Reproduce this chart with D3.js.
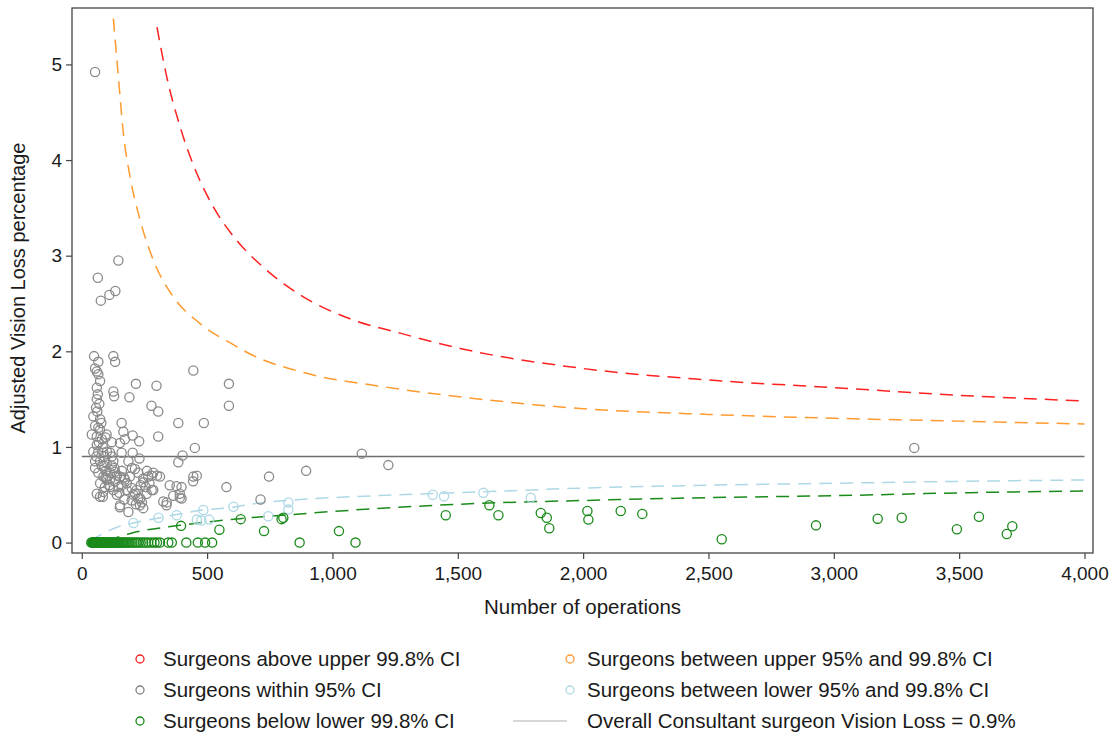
<!DOCTYPE html>
<html>
<head>
<meta charset="utf-8">
<script src="https://cdn.jsdelivr.net/npm/d3@7"></script>
<style>
    body { margin: 0; background: #fff; }
    text { font-family: "Liberation Sans", Arial, sans-serif; fill: #1a1a1a; }
</style>
</head>
<body>
<div id="chart"></div>
<script>
// surgeons: [number of operations, adjusted vision loss %]
var withinPts = [
    [53,4.92],[64,2.77],[146,2.95],[76,2.53],[110,2.59],[134,2.63],
    [49,1.95],[66,1.89],[126,1.95],[133,1.89],[53,1.82],[60,1.79],[66,1.76],[73,1.69],
    [60,1.62],[64,1.55],[60,1.50],[70,1.45],[57,1.41],[62,1.37],[46,1.32],[73,1.29],
    [53,1.22],[66,1.20],[73,1.18],[78,1.25],[40,1.13],[60,1.11],[99,1.13],[80,1.08],
    [95,1.10],[68,1.05],[60,1.02],[84,1.00],[46,0.95],[66,0.95],[86,0.94],[100,0.95],
    [58,0.90],[90,0.90],[120,0.90],[53,0.85],[73,0.85],[113,0.94],[53,0.78],[80,0.80],
    [90,0.80],[99,0.83],[126,0.85],[66,0.73],[86,0.69],[95,0.75],[95,0.68],[105,0.70],
    [73,0.62],[92,0.58],[86,0.53],[73,0.48],[84,0.48],[60,0.51],[113,0.73],[113,0.66],
    [110,0.60],[113,0.58],[120,0.80],[130,0.78],[133,0.64],[126,0.55],[140,0.70],[140,0.50],
    [146,0.58],[150,0.52],[152,0.69],[133,0.74],[99,0.66],[160,0.75],[168,0.68],[170,0.45],
    [126,1.58],[129,1.53],[190,1.52],[216,1.66],[445,1.80],[120,1.05],
    [159,1.25],[166,1.16],[152,1.04],[172,1.08],[203,1.12],[229,1.06],[159,0.94],[203,0.94],
    [186,0.85],[212,0.77],[225,0.73],[192,0.69],[172,0.66],[159,0.60],[179,0.55],[180,0.62],
    [199,0.57],[219,0.55],[206,0.50],[213,0.51],[225,0.46],[199,0.44],[216,0.40],[232,0.39],
    [245,0.36],[186,0.32],[152,0.37],[153,0.39],[200,0.78],[230,0.88],
    [278,1.43],[305,1.37],[298,1.64],[305,1.11],
    [245,0.67],[246,0.63],[265,0.69],[285,0.73],[279,0.70],[312,0.69],[285,0.55],[279,0.55],
    [259,0.51],[233,0.46],[240,0.42],[255,0.58],[270,0.62],[260,0.75],[300,0.70],[235,0.60],
    [325,0.43],[338,0.39],[339,0.42],[385,1.25],[487,1.25],[587,1.66],[587,1.43],
    [402,0.91],[385,0.84],[451,0.99],[445,0.69],[459,0.70],
    [351,0.60],[378,0.59],[398,0.58],[391,0.51],[398,0.46],[365,0.49],[391,0.47],[444,0.64],
    [577,0.58],[713,0.45],[747,0.69],[895,0.75],[1117,0.93],[1223,0.81],[3321,0.99]
];
var lowerBandPts = [
    [206,0.205],[306,0.26],[379,0.285],[485,0.34],[459,0.24],[477,0.23],[508,0.24],
    [605,0.375],[744,0.275],[824,0.42],[824,0.345],[1400,0.50],[1445,0.485],[1602,0.52],[1791,0.47]
];
var belowPts = [
    [396,0.175],[549,0.135],[634,0.245],[727,0.12],[797,0.245],[804,0.26],[1026,0.12],
    [1452,0.285],[1626,0.39],[1662,0.285],[1831,0.31],[1855,0.26],[1865,0.15],[2017,0.33],
    [2021,0.24],[2150,0.33],[2236,0.30],[2553,0.035],[2929,0.18],[3175,0.25],[3271,0.26],
    [3491,0.14],[3579,0.27],[3690,0.09],[3712,0.17]
];
// surgeons with no vision loss (value 0), by number of operations
var belowZeroOps = [38,42,45,48,50,52,55,57,60,62,65,67,70,72,75,78,80,83,85,88,90,93,95,98,
    100,103,106,110,113,116,120,124,128,132,136,140,145,150,155,160,165,170,176,182,188,
    195,202,210,218,226,235,245,255,265,278,290,300,312,345,359,417,463,492,520,869,1092];

// control limits
var upper998 = [[300,5.39],[339,4.87],[392,4.35],[459,3.86],[525,3.51],[618,3.16],[724,2.88],
    [871,2.59],[1070,2.34],[1270,2.19],[1509,2.03],[2000,1.82],[2500,1.70],[3000,1.62],[3500,1.54],[4000,1.48]];
var upper95 = [[126,5.48],[146,4.87],[166,4.28],[193,3.82],[233,3.37],[286,2.95],[365,2.57],
    [472,2.29],[618,2.05],[658,1.99],[897,1.77],[1203,1.63],[1589,1.50],[2000,1.40],[2500,1.34],
    [3000,1.30],[3500,1.27],[4000,1.24]];
var lower95 = [[33,0.02],[90,0.10],[140,0.16],[206,0.205],[312,0.26],[485,0.34],[605,0.37],
    [698,0.41],[871,0.45],[1083,0.48],[1589,0.53],[2000,0.57],[2500,0.60],[3000,0.62],[3500,0.64],[4000,0.655]];
var lower998 = [[100,0.02],[200,0.10],[392,0.18],[631,0.25],[871,0.30],[1083,0.34],[1589,0.41],
    [2000,0.44],[2500,0.47],[3000,0.49],[3500,0.52],[4000,0.54]];
var overallRate = 0.9;
var overallRange = [0, 4000];

var xTicks = [0, 500, 1000, 1500, 2000, 2500, 3000, 3500, 4000];
var yTicks = [0, 1, 2, 3, 4, 5];

var legendItems = [
    {label: "Surgeons above upper 99.8% CI", color: "#ff2020", type: "dot"},
    {label: "Surgeons within 95% CI", color: "#808080", type: "dot"},
    {label: "Surgeons below lower 99.8% CI", color: "#1a8a1a", type: "dot"},
    {label: "Surgeons between upper 95% and 99.8% CI", color: "#ff9a30", type: "dot"},
    {label: "Surgeons between lower 95% and 99.8% CI", color: "#add8e6", type: "dot"},
    {label: "Overall Consultant surgeon Vision Loss = 0.9%", color: "#b0b0b0", type: "line"}
];

var W = 1114, H = 738;
var plot = {left: 72, right: 1093, top: 8, bottom: 553};

var svg = d3.select("#chart").append("svg")
    .attr("width", W)
    .attr("height", H);

var x = d3.scaleLinear().domain([-39, 4034]).range([plot.left, plot.right]);
var y = d3.scaleLinear().domain([-0.109, 5.59]).range([plot.bottom, plot.top]);

svg.append("clipPath").attr("id", "clip")
    .append("rect")
    .attr("x", plot.left).attr("y", plot.top)
    .attr("width", plot.right - plot.left).attr("height", plot.bottom - plot.top);

// axes
var xAxis = svg.append("g")
    .attr("transform", "translate(0," + plot.bottom + ")")
    .call(d3.axisBottom(x).tickValues(xTicks).tickFormat(d3.format(",")).tickSize(6).tickPadding(8));
var yAxis = svg.append("g")
    .attr("transform", "translate(" + plot.left + ",0)")
    .call(d3.axisLeft(y).tickValues(yTicks).tickFormat(d3.format("d")).tickSize(6).tickPadding(4));
[xAxis, yAxis].forEach(function(g) {
    g.select(".domain").remove();
    g.selectAll(".tick line").attr("stroke", "#444").attr("stroke-width", 1.2);
    g.selectAll(".tick text").style("font-size", "19px").attr("fill", "#1a1a1a");
});

// frame
svg.append("rect")
    .attr("x", plot.left).attr("y", plot.top)
    .attr("width", plot.right - plot.left).attr("height", plot.bottom - plot.top)
    .attr("fill", "none").attr("stroke", "#444").attr("stroke-width", 1.3);

svg.append("text")
    .attr("x", (plot.left + plot.right) / 2)
    .attr("y", 614)
    .attr("text-anchor", "middle")
    .style("font-size", "20.5px")
    .text("Number of operations");

svg.append("text")
    .attr("transform", "translate(25,288) rotate(-90)")
    .attr("text-anchor", "middle")
    .style("font-size", "20px")
    .text("Adjusted Vision Loss percentage");

var g = svg.append("g").attr("clip-path", "url(#clip)");

// overall rate
g.append("line")
    .attr("x1", x(overallRange[0])).attr("x2", x(overallRange[1]))
    .attr("y1", y(overallRate)).attr("y2", y(overallRate))
    .attr("stroke", "#6e6e6e").attr("stroke-width", 1.5);

// funnel limits
var line = d3.line()
    .x(function(d) { return x(d[0]); })
    .y(function(d) { return y(d[1]); })
    .curve(d3.curveMonotoneX);

[
    {data: upper998, color: "#ff2020"},
    {data: upper95, color: "#ff9a30"},
    {data: lower95, color: "#add8e6"},
    {data: lower998, color: "#1a8a1a"}
].forEach(function(s) {
    g.append("path")
        .datum(s.data)
        .attr("d", line)
        .attr("fill", "none")
        .attr("stroke", s.color)
        .attr("stroke-width", 1.5)
        .attr("stroke-dasharray", "13,8");
});

// points
function dots(data, color) {
    g.append("g").selectAll("circle")
        .data(data)
        .enter().append("circle")
        .attr("cx", function(d) { return x(d[0]); })
        .attr("cy", function(d) { return y(d[1]); })
        .attr("r", 4.6)
        .attr("fill", "none")
        .attr("stroke", color)
        .attr("stroke-width", 1.3);
}
dots(withinPts, "#8a8a8a");
dots(lowerBandPts, "#add8e6");
dots(belowPts, "#1a8a1a");
dots(belowZeroOps.map(function(n) { return [n, 0]; }), "#1a8a1a");

// legend
var legend = svg.append("g");
legendItems.forEach(function(d, i) {
    var col = Math.floor(i / 3), row = i % 3;
    var ly = 659 + row * 31;
    var item = legend.append("g");
    if (d.type === "dot") {
        item.append("circle")
            .attr("cx", col === 0 ? 140 : 570).attr("cy", ly)
            .attr("r", 4).attr("fill", "none")
            .attr("stroke", d.color).attr("stroke-width", 1.3);
    } else {
        item.append("line")
            .attr("x1", 513).attr("x2", 567)
            .attr("y1", ly).attr("y2", ly)
            .attr("stroke", d.color).attr("stroke-width", 1.2);
    }
    item.append("text")
        .attr("x", col === 0 ? 163 : 587)
        .attr("y", ly)
        .attr("dy", "0.35em")
        .style("font-size", "20.5px")
        .text(d.label);
});
</script>
</body>
</html>
